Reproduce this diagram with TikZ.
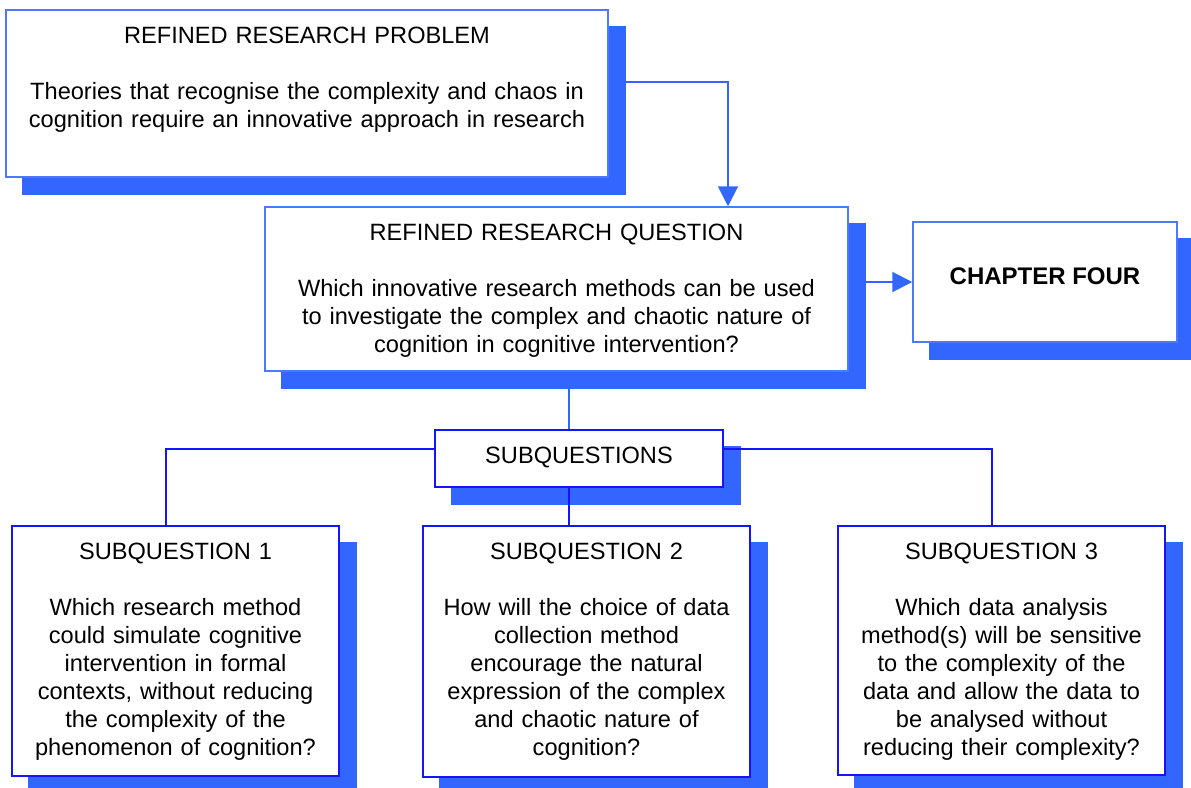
\documentclass[tikz,border=0pt]{standalone}
\usepackage{fontspec}
\setmainfont{Liberation Sans}
\usetikzlibrary{arrows.meta}
\definecolor{shadowblue}{RGB}{51,102,255}
\definecolor{lightedge}{RGB}{77,120,255}
\definecolor{darkedge}{RGB}{20,20,255}
\pgfdeclarelayer{bgconn}
\pgfdeclarelayer{shadowlayer}
\pgfsetlayers{bgconn,shadowlayer,main}
\tikzset{
  boxlight/.style={draw=lightedge, line width=1.5pt, fill=white, inner sep=0pt},
  boxdark/.style={draw=darkedge, line width=2pt, fill=white, inner sep=0pt},
  txt/.style={font=\fontsize{23.6}{28}\selectfont, align=center, inner sep=0pt, anchor=base, text=black},
  conlight/.style={draw=shadowblue, line width=2pt},
  condark/.style={draw=darkedge, line width=2pt},
  arr/.style={-{Triangle[width=20pt,length=20pt]}},
}
\newcommand{\boxshadow}[1]{\fill[shadowblue] ([shift={(17pt,-17pt)}]#1.north west) rectangle ([shift={(17pt,-17pt)}]#1.south east);}
\begin{document}
\begin{tikzpicture}[x=1pt,y=-1pt]
\useasboundingbox (0,0) rectangle (1191,787);
% boxes
\node[boxlight, minimum width=602pt, minimum height=167pt] (A) at (307,93.5) {};
\node[boxlight, minimum width=583pt, minimum height=164pt] (Q) at (556.5,289) {};
\node[boxlight, minimum width=264pt, minimum height=120pt] (C) at (1045,282) {};
\node[boxdark, minimum width=288pt, minimum height=57pt] (S) at (579,458.5) {};
\node[boxdark, minimum width=327pt, minimum height=250pt] (SQ1) at (175.5,651) {};
\node[boxdark, minimum width=327pt, minimum height=251pt] (SQ2) at (586.5,651.5) {};
\node[boxdark, minimum width=327pt, minimum height=249pt] (SQ3) at (1001.5,650.5) {};
% shadows
\begin{pgfonlayer}{shadowlayer}
\boxshadow{A}\boxshadow{Q}\boxshadow{C}\boxshadow{S}\boxshadow{SQ1}\boxshadow{SQ2}\boxshadow{SQ3}
\end{pgfonlayer}
% coordinates for connector routes
\coordinate (k1) at (728,82);
\coordinate (k2) at (569,0);
\coordinate (k3) at (166,449);
\coordinate (k4) at (992,449);
% upper connectors (behind shadows)
\begin{pgfonlayer}{bgconn}
\draw[conlight, arr] (A.east|-k1) -| (Q.north-|k1);
\draw[conlight, arr] (Q.east|-C.west) -- (C.west);
\draw[conlight] (Q.south-|k2) -- (S.north-|k2);
\end{pgfonlayer}
% lower connectors
\draw[condark] (S.south-|k2) -- (SQ2.north-|k2);
\draw[condark] (S.west|-k3) -| (SQ1.north-|k3);
\draw[condark] (S.east|-k4) -| (SQ3.north-|k4);
% texts
\node[txt, text width=590pt] (At) at (307,43.5) {REFINED RESEARCH PROBLEM\\[28pt]Theories that recognise the complexity and chaos in\\cognition require an innovative approach in research};
\node[txt, text width=570pt] (Qt) at (556.5,240.5) {REFINED RESEARCH QUESTION\\[28pt]Which innovative research methods can be used\\to investigate the complex and chaotic nature of\\cognition in cognitive intervention?};
\node[txt, font=\fontsize{24}{28}\selectfont\bfseries] (Ct) at (1045,284.5) {CHAPTER FOUR};
\node[txt] (St) at (579,463.5) {SUBQUESTIONS};
\node[txt, text width=320pt] (SQ1t) at (175.5,559.5) {SUBQUESTION 1\\[28pt]Which research method\\could simulate cognitive\\intervention in formal\\contexts, without reducing\\the complexity of the\\phenomenon of cognition?};
\node[txt, text width=320pt] (SQ2t) at (586.5,559.5) {SUBQUESTION 2\\[28pt]How will the choice of data\\collection method\\encourage the natural\\expression of the complex\\and chaotic nature of\\cognition?};
\node[txt, text width=320pt] (SQ3t) at (1001.5,559.5) {SUBQUESTION 3\\[28pt]Which data analysis\\method(s) will be sensitive\\to the complexity of the\\data and allow the data to\\be analysed without\\reducing their complexity?};
\end{tikzpicture}
\end{document}
